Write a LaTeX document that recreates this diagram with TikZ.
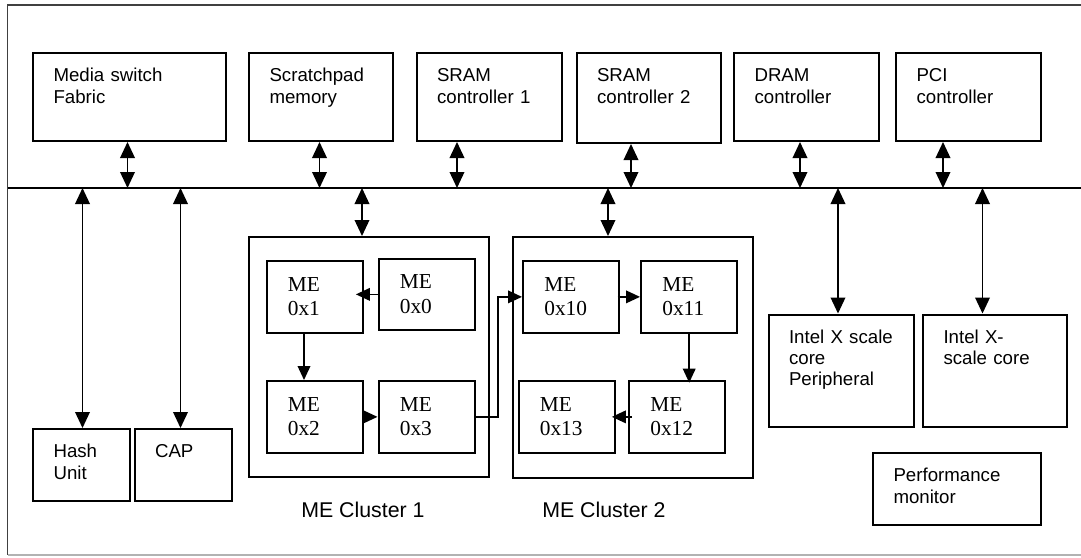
\documentclass[tikz,border=0pt]{standalone}
\usepackage{fontspec}
\setmainfont{Liberation Serif}
\newfontfamily\arialfont{Liberation Sans}
\usetikzlibrary{arrows.meta,calc}

\begin{document}
\begin{tikzpicture}[
x=0.75pt, y=-0.75pt,
blk/.style 2 args={draw, line width=1.5pt, anchor=north west, align=left,
  inner xsep=15.4pt, inner ysep=0pt, text width=#1*0.75pt-30.8pt,
  text height=21.4pt, text depth=#2*0.75pt-21.4pt,
  font=\arialfont\fontsize{14}{16.1}\selectfont},
me/.style={draw, line width=1.5pt, anchor=north west, align=left,
  inner xsep=16pt, inner ysep=0pt, text width=40.3pt,
  text height=22.5pt, text depth=31.3pt,
  font=\fontsize{16}{18.4}\selectfont},
clus/.style 2 args={draw, line width=1.5pt, anchor=north west, inner sep=0pt,
  minimum width=#1*0.75pt, minimum height=#2*0.75pt},
clab/.style={anchor=base west, inner sep=0pt, font=\arialfont\fontsize{16}{18.4}\selectfont},
dbl/.style={line width=1.1pt, {Triangle[length=12pt,width=11pt]}-{Triangle[length=12pt,width=11pt]}},
arr/.style={line width=1.1pt, -{Triangle[length=10.5pt,width=9.5pt]}}
]
\useasboundingbox (0,0) rectangle (1081,557);
\draw[line width=1pt, black!75] (1081,5) -- (7.5,5) -- (7.5,555);
\draw[line width=1pt, black!30] (7.5,555) -- (1081,555);
\coordinate (busL) at (7.5,188);
\coordinate (busR) at (1081,188);
\draw[line width=1.5pt] (busL) -- (busR);

\node[blk={193}{88}] (msf) at (32,52) {Media switch\\Fabric};
\node[blk={144}{88}] (spm) at (248,52) {Scratchpad\\memory};
\node[blk={145}{88}] (sr1) at (415.5,52) {SRAM\\controller 1};
\node[blk={144}{90}] (sr2) at (575.5,52) {SRAM\\controller 2};
\node[blk={145}{88}] (drc) at (733,52) {DRAM\\controller};
\node[blk={145}{88}] (pcc) at (895,52) {PCI\\controller};

\node[blk={97}{72}] (hsh) at (32,428) {Hash\\Unit};
\node[blk={97}{72}] (cap) at (133.5,428) {CAP};
\node[clus={240}{240}] (cl1) at (248,236) {};
\node[clus={240}{241}] (cl2) at (512,236) {};
\node[blk={145}{112}] (xsp) at (767.5,313.5) {Intel X scale\\core\\Peripheral};
\node[blk={144}{112}] (xsc) at (922,313.5) {Intel X-\\scale core};
\node[blk={168}{72}] (pfm) at (872,452) {Performance\\monitor};

\node[me] (me1) at (265.5,260) {ME\\0x1};
\node[me] (me0) at (377.5,257.5) {ME\\0x0};
\node[me] (me2) at (265.5,380) {ME\\0x2};
\node[me] (me3) at (377.5,380) {ME\\0x3};
\node[me] (me10) at (522,260) {ME\\0x10};
\node[me] (me11) at (640,260) {ME\\0x11};
\node[me] (me13) at (517.5,380) {ME\\0x13};
\node[me] (me12) at (628,380) {ME\\0x12};

\node[clab] (lb1) at (301,517) {ME Cluster 1};
\node[clab] (lb2) at (542,517) {ME Cluster 2};

\coordinate (t1) at (127.5,188);
\coordinate (t2) at (319.5,188);
\coordinate (t3) at (457,188);
\coordinate (t4) at (631,188);
\coordinate (t5) at (800,188);
\coordinate (t6) at (943,188);
\draw[dbl] (msf.south -| t1) -- (t1);
\draw[dbl] (spm.south -| t2) -- (t2);
\draw[dbl] (sr1.south -| t3) -- (t3);
\draw[dbl] (sr2.south -| t4) -- (t4);
\draw[dbl] (drc.south -| t5) -- (t5);
\draw[dbl] (pcc.south -| t6) -- (t6);

\coordinate (c1) at (82.5,188);
\coordinate (c2) at (180.5,188);
\coordinate (c3) at (362,188);
\coordinate (c4) at (608,188);
\coordinate (c5) at (838,188);
\coordinate (c6) at (982.5,188);
\draw[dbl] (c1) -- (c1 |- hsh.north);
\draw[dbl] (c2) -- (c2 |- cap.north);
\draw[dbl] (c3) -- (c3 |- cl1.north);
\draw[dbl] (c4) -- (c4 |- cl2.north);
\draw[dbl] (c5) -- (c5 |- xsp.north);
\draw[dbl] (c6) -- (c6 |- xsc.north);

\draw[arr, shorten >=-6pt] (me0.west) -- (me0.west -| me1.east);
\draw[arr] ($(me1.south west)+(38.5,0)$) coordinate (d1) -- (d1 |- me2.north);
\draw[arr, shorten <=-6pt] (me2.east) -- (me3.west);
\draw[arr] (me3.east) -- ++(22,0) |- (me10.west);
\draw[arr, shorten <=-2pt] (me10.east) -- (me11.west);
\draw[arr, shorten >=-2pt] (me11.south) -- (me11.south |- me12.north);
\draw[arr, shorten <=-3pt, shorten >=-3pt] (me12.west) -- (me13.east);
\end{tikzpicture}
\end{document}
